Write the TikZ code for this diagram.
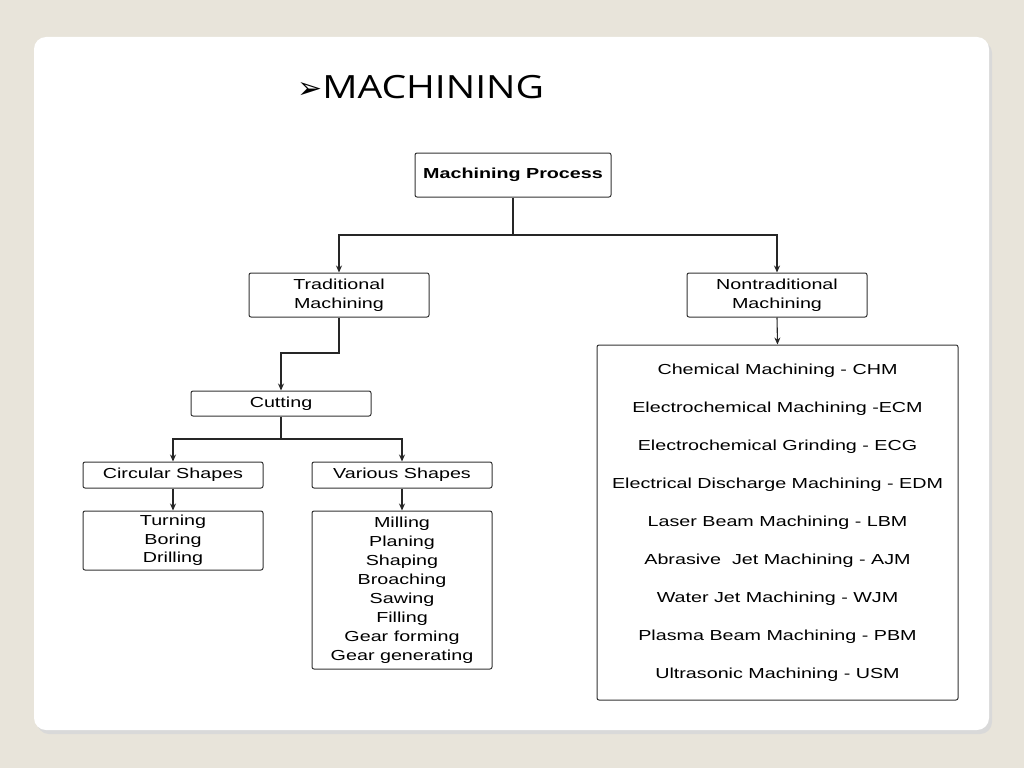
\documentclass[tikz,border=0pt]{standalone}
\usepackage{fontspec}
\setmainfont{Liberation Sans}[FakeStretch=1.36]
\newfontfamily\titlefont{Open Sans}[FakeStretch=1.22]
\newfontfamily\symfont{DejaVu Sans}
\usetikzlibrary{arrows.meta}
\begin{document}
\begin{tikzpicture}[x=1pt,y=-1pt,
  bx/.style={draw=black!80,line width=1pt,rounded corners=2pt,fill=white,font=\fontsize{14.5}{18.5}\selectfont,align=center,inner sep=0pt},
  ln/.style={draw=black!85,line width=1.1pt},
  ar/.style={ln,-{Stealth[length=7pt,width=6pt]}}]
\fill[fill={rgb,255:red,232;green,228;blue,218}] (0,0) rectangle (1024,768);
\fill[black!15,rounded corners=12pt] (37,41) rectangle (992,734);
\fill[white,rounded corners=12pt] (34,37) rectangle (989,730);
\useasboundingbox (0,0) rectangle (1024,768);
\node[anchor=west,inner sep=0pt,font=\fontsize{32}{36}\selectfont] (title) at (297,87) {{\symfont\fontsize{30}{32}\selectfont ➢}{\titlefont MACHINING}};
\node[bx,minimum width=196,minimum height=44,font=\bfseries\fontsize{14.5}{18}\selectfont] (mp) at (513,175) {Machining Process};
\node[bx,minimum width=180,minimum height=44] (tm) at (339,295) {Traditional\\Machining};
\node[bx,minimum width=180,minimum height=44] (nm) at (777,295) {Nontraditional\\Machining};
\node[bx,minimum width=180,minimum height=25] (cut) at (281,403.5) {Cutting};
\node[bx,minimum width=180,minimum height=26] (cs) at (173,475) {Circular Shapes};
\node[bx,minimum width=180,minimum height=26] (vs) at (402,475) {Various Shapes};
\node[bx,minimum width=180,minimum height=59] (tbd) at (173,540.5) {Turning\\Boring\\Drilling};
\node[bx,minimum width=180,minimum height=158,font=\fontsize{14.5}{19}\selectfont] (mil) at (402,590) {Milling\\Planing\\Shaping\\Broaching\\Sawing\\Filling\\Gear forming\\Gear generating};
\node[bx,minimum width=361,minimum height=355,font=\fontsize{14.5}{38}\selectfont] (list) at (777.5,522.5) {Chemical Machining - CHM\\Electrochemical Machining -ECM\\Electrochemical Grinding - ECG\\Electrical Discharge Machining - EDM\\Laser Beam Machining - LBM\\Abrasive\ \ Jet Machining - AJM\\Water Jet Machining - WJM\\Plasma Beam Machining - PBM\\Ultrasonic Machining - USM};
\coordinate (j1) at (513,235);
\draw[ln] (mp.south) -- (j1);
\draw[ar] (j1) -| (tm.north);
\draw[ar] (j1) -| (nm.north);
\draw[ar] (tm.south) |- (281,353) -- (cut.north);
\coordinate (j2) at (281,439);
\draw[ln] (cut.south) -- (j2);
\draw[ar] (j2) -| (cs.north);
\draw[ar] (j2) -| (vs.north);
\draw[ar] (cs.south) -- (tbd.north);
\draw[ar] (vs.south) -- (mil.north);
\draw[ar] (nm.south) -- (list.north);
\end{tikzpicture}
\end{document}
